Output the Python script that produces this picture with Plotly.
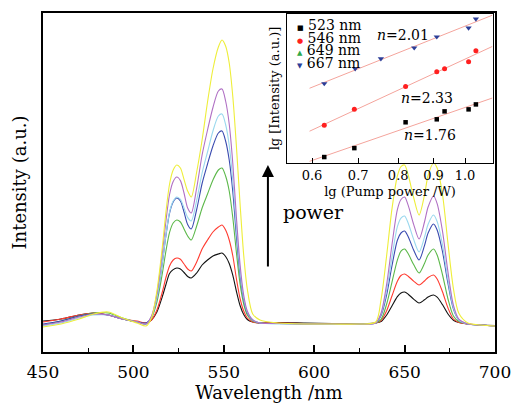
import numpy as np
import plotly.graph_objects as go

# ---------------- main spectra (a.u.) ----------------
wavelength = [450, 460, 470, 478, 486, 494, 502, 507,
              510, 513, 516, 518, 520, 522, 524, 526, 528, 530, 532, 535, 538, 541, 544, 547, 549, 551,
              553, 555, 557, 559, 561, 563, 566, 570,
              580, 595, 610, 625, 634,
              637, 640, 643, 646, 648, 650, 652, 655, 658, 661, 663, 666, 668, 671, 674, 677,
              680, 685, 692, 700]

spec_black = [31, 33, 37, 39, 37, 33, 30, 29,
              32, 40, 55.4, 67.5, 78.5, 82.4, 84, 83, 79.5, 75.5, 74, 79, 87, 92, 96, 98, 99, 95.5,
              88.5, 76.6, 60.5, 46.5, 37.4, 32.5, 30, 29,
              29.5, 29, 28.5, 28.5, 29,
              30.5, 36.8, 46, 55.4, 59, 60, 57.8, 52.9, 49, 52.2, 55, 57, 54.8, 47.2, 38, 31.8,
              29.5, 28, 27, 26.5]
spec_red = [30, 33, 37, 39, 37, 33, 31, 29,
            32, 42, 60, 74.5, 86, 92, 94, 92.7, 88, 83, 81, 90, 103, 112, 120, 125, 127, 122,
            112, 96, 73, 53.5, 41, 34, 30, 29,
            29, 28.5, 28.5, 28, 29,
            31.5, 41, 56, 70.7, 76.5, 78, 75.8, 70.9, 67, 71, 74.5, 77, 73, 60, 44, 33,
            29.5, 28, 27, 26]
spec_green = [27, 31, 36, 39, 39, 34, 30, 28,
              34, 50, 78.5, 101, 119.6, 129, 132, 130, 123, 116, 112, 126, 144, 158, 172, 182, 184, 176,
              161, 134, 99, 68, 48, 37, 31, 29,
              28.5, 28, 28, 28, 29,
              32.7, 47.5, 69.7, 91.9, 100.8, 103, 98.2, 87.4, 79, 88.6, 97, 103, 97, 77, 53, 36,
              30.5, 28, 27, 26]
spec_blue = [28, 31, 36, 38, 37, 33, 30, 29,
             35, 54, 89, 116.5, 139, 150, 154, 151, 140, 127.6, 123, 142.5, 168.5, 188, 206, 219, 221, 211,
             192, 160, 115, 77, 52, 39, 32, 29,
             28.5, 28, 28, 28, 29,
             36.4, 56.6, 86, 111.8, 119, 121, 115.2, 102, 92, 106.4, 119, 128, 122, 100, 68.6, 42.9,
             32, 28, 27, 26]
spec_lightblue = [26, 29, 34, 37, 37, 33, 30, 28,
                  35, 54, 89.5, 117, 140, 151, 155, 152.6, 144, 134.6, 131, 151.7, 179, 200, 221, 236, 238, 227.5,
                  206.6, 171, 123, 81, 54, 40, 32, 29,
                  28, 28, 27.5, 28, 29,
                  37.6, 61, 95, 125.3, 133.9, 136, 128.8, 112.6, 100, 114.8, 127.8, 137, 130.5, 106.8, 72, 44,
                  32, 28, 27, 26]
spec_purple = [27, 30, 35, 38, 37, 33, 30, 28,
               36, 58, 99, 131, 157.5, 170.6, 175, 171.4, 159, 144, 139, 164, 197, 222, 244.5, 261, 263, 251,
               228, 188, 134, 87.5, 57, 41, 32, 29,
               28.5, 28, 28, 28, 29,
               39, 66.8, 107, 142.4, 152.5, 155, 146.6, 127.7, 113, 130, 145, 156, 148.4, 120.4, 79.8, 46.8,
               32.8, 28, 27, 26]
spec_yellow = [25, 28, 33, 38, 40, 34, 29, 26,
               34, 61, 105, 140, 168, 182, 187, 184, 172.6, 161, 155, 180, 212, 250, 283, 305, 312, 306,
               289, 255, 205, 148, 97, 63, 38, 32,
               29, 28, 28, 28, 30,
               52.7, 95.4, 142.8, 176, 185.4, 187, 177, 154.5, 137, 157, 176.5, 189, 184, 157, 108.5, 63.4,
               38.7, 29, 27, 26]

spectra = [spec_black, spec_red, spec_green, spec_blue, spec_lightblue, spec_purple, spec_yellow]
spec_colors = ["#111111", "#ff3b30", "#5cb84a", "#3a4bb0", "#9ad8ee", "#b070c4", "#eeee3a"]

# ---------------- inset: lg intensity vs pump power ----------------
pump_523 = [0.625, 0.691, 0.820, 0.910, 0.934, 1.012, 1.037]
lgI_523 = [3.06, 3.15, 3.41, 3.44, 3.52, 3.54, 3.59]
pump_546 = [0.625, 0.691, 0.820, 0.910, 0.934, 1.012, 1.037]
lgI_546 = [3.38, 3.54, 3.77, 3.92, 3.95, 4.02, 4.13]
pump_667 = [0.625, 0.693, 0.755, 0.844, 0.910, 1.012, 1.037]
lgI_667 = [3.80, 3.95, 4.05, 4.16, 4.27, 4.36, 4.45]
slope_labels = ["<i>n</i>=2.01", "<i>n</i>=2.33", "<i>n</i>=1.76"]
legend_names = ["523 nm", "546 nm", "649 nm", "667 nm"]
legend_symbols = ["■", "●", "▲", "▼"]
legend_colors = ["#000000", "#ff2020", "#2ea84a", "#2c3e98"]
inset_ticks = [0.6, 0.7, 0.8, 0.9, 1.0]
inset_ticktext = ["0.6", "0.7", "0.8", "0.9", "1.0"]

FONT = "DejaVu Serif"
fig = go.Figure()

for ys, c in zip(spectra, spec_colors):
    fig.add_trace(go.Scatter(x=wavelength, y=ys, mode="lines",
                             line=dict(color=c, width=1.1, shape="spline", smoothing=0.8),
                             showlegend=False, xaxis="x", yaxis="y"))

# fit lines (behind points)
fit_x = np.array([0.595, 1.095])
for px, py in [(pump_667, lgI_667), (pump_546, lgI_546), (pump_523, lgI_523)]:
    k, b = np.polyfit(np.log10(px), py, 1)
    fig.add_trace(go.Scatter(x=fit_x, y=k * np.log10(fit_x) + b, mode="lines",
                             line=dict(color="#f4a49c", width=1), showlegend=False,
                             xaxis="x2", yaxis="y2"))

fig.add_trace(go.Scatter(x=pump_523, y=lgI_523, mode="markers", name="523 nm", showlegend=False,
                         marker=dict(symbol="square", size=4.5, color=legend_colors[0]),
                         xaxis="x2", yaxis="y2"))
fig.add_trace(go.Scatter(x=pump_546, y=lgI_546, mode="markers", name="546 nm", showlegend=False,
                         marker=dict(symbol="circle", size=5, color=legend_colors[1]),
                         xaxis="x2", yaxis="y2"))
fig.add_trace(go.Scatter(x=pump_667, y=lgI_667, mode="markers", name="667 nm", showlegend=False,
                         marker=dict(symbol="triangle-down", size=5.5, color=legend_colors[3]),
                         xaxis="x2", yaxis="y2"))

annotations = [
    dict(x=574.4, y=187, ax=574.4, ay=84, xref="x", yref="y", axref="x", ayref="y",
         text="", showarrow=True, arrowhead=2, arrowsize=1.2, arrowwidth=2, arrowcolor="#000000"),
    dict(x=581.6, y=140, xref="x", yref="y", text="power", showarrow=False,
         xanchor="left", yanchor="middle", font=dict(family=FONT, size=19, color="#000")),
]
for txt, xv, yv in zip(slope_labels, [0.813, 0.880, 0.889], [4.289, 3.651, 3.282]):
    annotations.append(dict(x=np.log10(xv), y=yv, xref="x2", yref="y2", text=txt,
                            showarrow=False, font=dict(family=FONT, size=14, color="#000")))
# legend of the inset: one text block, tight line spacing
legend_lines = [f"<span style='font-size:7px;color:{col}'>{sym}</span>"
                f"<span style='font-size:14px'> {nm}</span>"
                for nm, sym, col in zip(legend_names, legend_symbols, legend_colors)]
annotations.append(dict(
    x=0.5575, y=0.993, xref="paper", yref="paper", xanchor="left", yanchor="top",
    align="left", showarrow=False, text="<br>".join(legend_lines),
    font=dict(family=FONT, size=9.8, color="#000")))

fig.update_layout(
    width=512, height=403,
    margin=dict(l=43, r=17, t=13, b=51),
    paper_bgcolor="white", plot_bgcolor="white",
    font=dict(family=FONT, color="#000"),
    annotations=annotations,
    showlegend=False,
    xaxis=dict(range=[450, 700], dtick=50, ticks="inside", ticklen=7, tickwidth=1.5,
               tickcolor="#000", showline=True, linecolor="#000", linewidth=1.5, mirror=True,
               showgrid=False, zeroline=False, tickfont=dict(family=FONT, size=17),
               ticklabelstandoff=4, automargin=False,
               minor=dict(dtick=25, ticks="inside", ticklen=4, tickwidth=1.2, tickcolor="#000"),
               title=dict(text="Wavelength /nm", font=dict(family=FONT, size=18), standoff=6)),
    yaxis=dict(range=[0, 339], showticklabels=False, ticks="", showline=True,
               linecolor="#000", linewidth=1.5, mirror=True, showgrid=False, zeroline=False,
               automargin=False,
               title=dict(text="Intensity (a.u.)", font=dict(family=FONT, size=18), standoff=10)),
    xaxis2=dict(type="log", range=[np.log10(0.552), np.log10(1.098)], domain=[0.540, 0.9956],
                anchor="y2", tickvals=inset_ticks, ticktext=inset_ticktext, automargin=False,
                ticks="inside", ticklen=5, tickcolor="#000", showline=True, linecolor="#000",
                linewidth=1.2, mirror=True, showgrid=False, zeroline=False,
                tickfont=dict(family=FONT, size=13),
                title=dict(text="lg (Pump power /W)", font=dict(family=FONT, size=13), standoff=5)),
    yaxis2=dict(range=[3.0, 4.5], domain=[0.5575, 0.997], anchor="x2", showticklabels=False,
                ticks="", showline=True, linecolor="#000", linewidth=1.2, mirror=True,
                showgrid=False, zeroline=False, automargin=False,
                title=dict(text="lg [Intensity (a.u.)]", font=dict(family=FONT, size=13), standoff=3)),
)

fig.write_html("out.html", config={"displayModeBar": False},
               post_script="document.body.style.margin='0';")
